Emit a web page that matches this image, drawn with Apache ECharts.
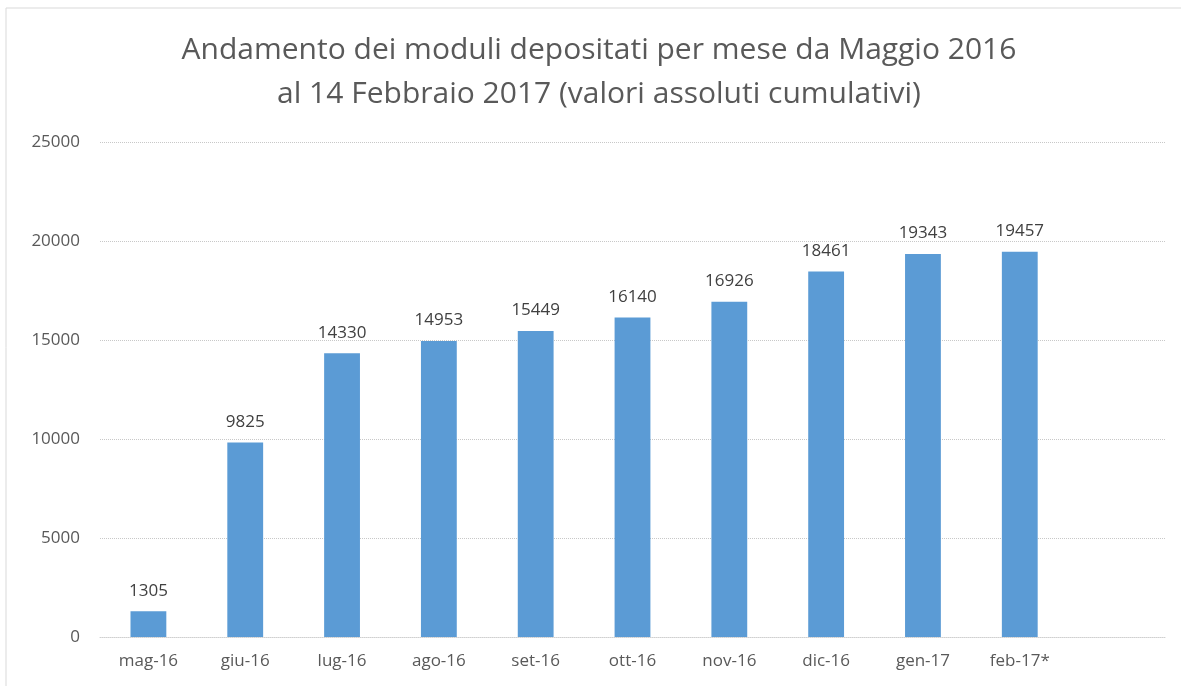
<!DOCTYPE html>
<html><head><meta charset="utf-8">
<script src="https://cdn.jsdelivr.net/npm/echarts@6/dist/echarts.min.js"></script>
<style>html,body{margin:0;padding:0;background:#fff;overflow:hidden}#c{width:1181px;height:686px}</style>
</head><body><div id="c"></div>
<script>
const categories = ['mag-16','giu-16','lug-16','ago-16','set-16','ott-16','nov-16','dic-16','gen-17','feb-17*',''];
const values = [1305, 9825, 14330, 14953, 15449, 16140, 16926, 18461, 19343, 19457, null];
const titleText = 'Andamento dei moduli depositati per mese da Maggio 2016\nal 14 Febbraio 2017 (valori assoluti cumulativi)';
const yMin = 0, yMax = 25000, yInterval = 5000;
const FONT = '"Open Sans",sans-serif';
const chart = echarts.init(document.getElementById('c'), null, {renderer:'canvas'});
chart.setOption({
  animation:false,
  backgroundColor:'#fff',
  graphic:[{type:'rect',shape:{x:6,y:8,width:1200,height:700},style:{fill:'none',stroke:'#d9d9d9',lineWidth:1},silent:true}],
  title:{text:titleText,left:594,top:23,textAlign:'center',textStyle:{fontFamily:FONT,fontSize:30,fontWeight:'normal',color:'#595959',lineHeight:44}},
  grid:{left:100,right:16,top:142,bottom:49,containLabel:false},
  xAxis:{type:'category',data:categories,
    axisLine:{show:true,lineStyle:{color:'#d0d0d0',type:'dotted'}},axisTick:{show:false},
    axisLabel:{fontFamily:FONT,fontSize:17,color:'#595959',margin:16}},
  yAxis:{type:'value',min:yMin,max:yMax,interval:yInterval,
    axisLine:{show:false},axisTick:{show:false},
    axisLabel:{fontFamily:FONT,fontSize:17,color:'#595959',margin:20,formatter:v=>String(v)},
    splitLine:{lineStyle:{color:'#c8c8c8',type:'dotted'}}},
  series:[{type:'bar',data:values,barWidth:'37%',itemStyle:{color:'#5B9BD5'},
    label:{show:true,position:'top',distance:12,fontFamily:FONT,fontSize:17,color:'#404040'}}]
});
</script></body></html>
